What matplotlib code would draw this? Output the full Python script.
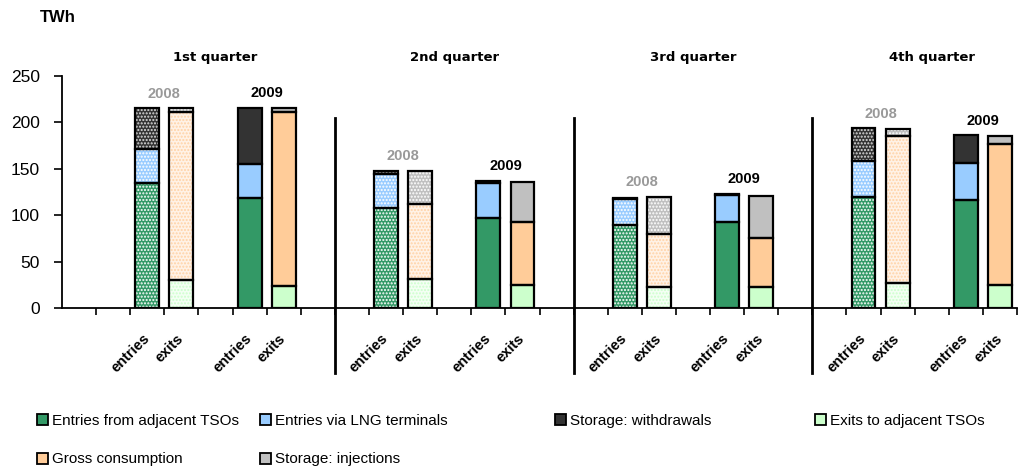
import numpy as np
import matplotlib
matplotlib.use("Agg")
import matplotlib.pyplot as plt
from matplotlib.patches import Patch
from matplotlib.transforms import ScaledTranslation

# ----------------------------
# Gas balance per quarter (TWh), order: Q1 2008, Q1 2009, Q2 2008, ...
# ----------------------------
quarters = ["1st quarter", "2nd quarter", "3rd quarter", "4th quarter"]
years = ["2008", "2009"]

entries_tso = [135, 118, 108, 97, 89, 93, 120, 116]
entries_lng = [36, 37, 36, 38, 28, 29, 38, 40]
storage_withdrawals = [44, 61, 4, 2, 2, 1, 36, 30]

exits_tso = [30, 24, 31, 25, 23, 23, 27, 25]
gross_consumption = [181, 187, 81, 68, 57, 52, 158, 152]
storage_injections = [4, 5, 36, 43, 40, 46, 8, 8]

# category slots on the x axis (empty slots separate the groups)
n_slots = 28
entry_slots = [2, 5, 9, 12, 16, 19, 23, 26]
divider_slots = [8, 15, 22]

# colours: solid (2009) and lighter fill + hatch colour (2008)
col = {
    "tso_in": "#339966", "lng": "#99CCFF", "wd": "#333333",
    "tso_out": "#CCFFCC", "gross": "#FFCC99", "inj": "#C0C0C0",
}
col_2008 = {
    "tso_in": ("#339966", "white"), "lng": ("#99CCFF", "white"),
    "wd": ("#333333", "#DDDDDD"), "tso_out": ("#F4FFF4", "#CCFFCC"),
    "gross": ("#FFF2E6", "#FFD2A6"), "inj": ("#C0C0C0", "white"),
}

plt.rcParams["font.family"] = ["Liberation Sans", "DejaVu Sans"]
plt.rcParams["hatch.linewidth"] = 1.0

fig = plt.figure(figsize=(10.27, 4.70), dpi=100)
ax = fig.add_axes([62 / 1027, 1 - 308 / 470, (1017 - 62) / 1027, (308 - 76) / 470])

width = 0.7


def draw_stack(x, layers, patterned):
    bottom = 0
    for key, h in layers:
        if patterned:
            face, hc = col_2008[key]
            ax.bar(x, h, width, bottom=bottom, color=face, linewidth=0, zorder=2)
            ax.bar(x, h, width, bottom=bottom, color="none", edgecolor=hc,
                   hatch=".....", linewidth=0, zorder=3)
        else:
            ax.bar(x, h, width, bottom=bottom, color=col[key], linewidth=0, zorder=2)
        ax.bar(x, h, width, bottom=bottom, fill=False, edgecolor="black",
               linewidth=1.6, zorder=4)
        bottom += h
    return bottom


for i, xe in enumerate(entry_slots):
    patterned = (i % 2 == 0)
    t_in = draw_stack(xe, [("tso_in", entries_tso[i]), ("lng", entries_lng[i]),
                           ("wd", storage_withdrawals[i])], patterned)
    t_out = draw_stack(xe + 1, [("tso_out", exits_tso[i]), ("gross", gross_consumption[i]),
                                ("inj", storage_injections[i])], patterned)
    top = max(t_in, t_out)
    ax.text(xe + 0.5, top + 8, years[i % 2], ha="center", va="bottom",
            fontsize=10.5, fontweight="bold",
            color="#999999" if patterned else "black")

# quarter headings
for q, name in enumerate(quarters):
    xc = entry_slots[2 * q] + 2.0
    ax.text(xc, 270, name, ha="center", va="center", fontsize=9.5,
            fontweight="bold", family="DejaVu Sans")

# group dividers
for d in divider_slots:
    ax.plot([d - 0.5, d - 0.5], [205, -70], color="black", lw=2,
            clip_on=False, zorder=5)

ax.set_xlim(-0.5, n_slots - 0.5)
ax.set_ylim(0, 250)

ax.spines["top"].set_visible(False)
ax.spines["right"].set_visible(False)
ax.spines["left"].set_linewidth(1.3)
ax.spines["bottom"].set_linewidth(1.3)

ax.set_yticks(np.arange(0, 251, 50))
ax.tick_params(axis="y", length=6, width=1.2, pad=10, labelsize=12.5)

label_pos = []
label_txt = []
for xe in entry_slots:
    label_pos += [xe, xe + 1]
    label_txt += ["entries", "exits"]
ax.set_xticks(label_pos)
ax.set_xticklabels(label_txt, rotation=45, ha="right", rotation_mode="anchor",
                   fontsize=10.5, fontweight="bold")
ax.tick_params(axis="x", which="major", length=0, pad=17)
shift = ScaledTranslation(-5 / 100, 0, fig.dpi_scale_trans)
for lab in ax.get_xticklabels():
    lab.set_transform(lab.get_transform() + shift)
ax.set_xticks(np.arange(0.5, n_slots, 1), minor=True)
ax.tick_params(axis="x", which="minor", length=5, width=1.2, direction="out")

fig.text(40 / 1027, 1 - 17 / 470, "TWh", ha="left", va="center",
         fontsize=12, fontweight="bold")

# legend, laid out in four columns
legend_cols = [
    [("Entries from adjacent TSOs", "tso_in"), ("Gross consumption", "gross")],
    [("Entries via LNG terminals", "lng"), ("Storage: injections", "inj")],
    [("Storage: withdrawals", "wd")],
    [("Exits to adjacent TSOs", "tso_out")],
]
legend_x = [37, 260, 555, 815]
for xpx, items in zip(legend_x, legend_cols):
    handles = [Patch(facecolor=col[k], edgecolor="black", linewidth=1.3, label=lab)
               for lab, k in items]
    fig.legend(handles=handles, loc="upper left",
               bbox_to_anchor=(xpx / 1027, 1 - 414 / 470), frameon=False,
               borderaxespad=0, borderpad=0, handlelength=0.75, handleheight=0.75,
               handletextpad=0.25, labelspacing=1.6, fontsize=11)

fig.savefig("out.png", dpi=100)
